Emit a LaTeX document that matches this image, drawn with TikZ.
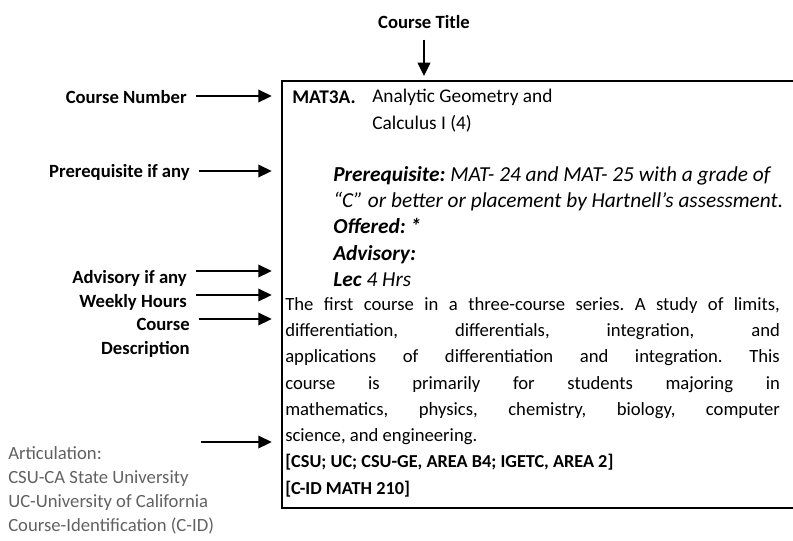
\documentclass[tikz,border=0pt]{standalone}
\usepackage{fontspec}
\setmainfont{Carlito}
\usetikzlibrary{arrows.meta}
\frenchspacing
\tikzset{
  lbl/.style={font=\bfseries\fontsize{14}{18}\selectfont, inner sep=0pt, anchor=east},
  ptr/.style={line width=1.1pt, -{Triangle[length=10pt,width=9.5pt]}, shorten <=7pt, shorten >=7pt},
  body/.style={font=\fontsize{14.5}{19.7}\selectfont, inner sep=0pt, anchor=west},
  artic/.style={font=\fontsize{14}{18}\selectfont, text=black!62, inner sep=0pt, anchor=north west, align=left},
}
\begin{document}
\begin{tikzpicture}[x=0.75pt,y=-0.75pt]
\clip (0,0) rectangle (793,540);
\node[draw, line width=1.5pt, inner sep=0pt, minimum width=390pt, minimum height=320.25pt, anchor=north west] (box) at (281,80) {};
\node[lbl, anchor=center] (title) at (424,22) {Course Title};
\draw[ptr, shorten >=3pt, shorten <=8pt] (title.south) -- (title.south |- box.north);
% labels
\node[lbl] (cnum) at (187,97) {Course Number};
\node[lbl] (prel) at (190,172) {Prerequisite if any};
\node[lbl] (advl) at (187,278) {Advisory if any};
\node[lbl] (wkl) at (187,302) {Weekly Hours};
\node[lbl, align=right] (desl) at (190,338) {Course\\Description};
\node[artic] (art) at (8,446) {Articulation:\\CSU-CA State University\\UC-University of California\\Course-Identification (C-ID)};
% free ends of arrows
\coordinate (e1) at (281,96);
\coordinate (e2) at (281,171);
\coordinate (e3) at (281,271);
\coordinate (e4) at (281,295);
\coordinate (e5) at (281,319);
\coordinate (e6) at (281,442);
\coordinate (s6) at (192,442);
\draw[ptr] (cnum.east |- e1) -- (e1);
\draw[ptr] (prel.east |- e2) -- (e2);
\draw[ptr] (advl.east |- e3) -- (e3);
\draw[ptr] (wkl.east |- e4) -- (e4);
\draw[ptr] (desl.east |- e5) -- (e5);
\draw[ptr] (s6) -- (e6);
% box content
\node[body, font=\bfseries\fontsize{14.5}{19.7}\selectfont] (num) at (292,97) {MAT3A.};
\node[body] (ttl) at (372,97) {Analytic Geometry and};
\node[body] (ttl2) at (372,123.3) {Calculus I (4)};
\node[body, font=\fontsize{16}{19.7}\selectfont, anchor=north west, align=left] (pre) at (333,166) {\textbf{\textit{Prerequisite:}} \textit{MAT- 24 and MAT- 25 with a grade of}\\
\textit{“C” or better or placement by Hartnell’s assessment.}\\
\textbf{\textit{Offered: *}}\\
\textbf{\textit{Advisory:}}\\
\textbf{\textit{Lec}} \textit{4 Hrs}};
\node[body, font=\fontsize{14}{19.7}\selectfont, anchor=north west, text width=371pt, align=justify] (desc) at (285,297) {The first course in a three-course series. A study of limits,\linebreak
differentiation, differentials, integration, and\linebreak
applications of differentiation and integration. This\linebreak
course is primarily for students majoring in\linebreak
mathematics, physics, chemistry, biology, computer\linebreak
science, and engineering.\par
{\bfseries\fontsize{13.7}{19.7}\selectfont [CSU; UC; CSU-GE, AREA B4; IGETC, AREA 2]\par
[C-ID MATH 210]\par}};
\end{tikzpicture}
\end{document}
